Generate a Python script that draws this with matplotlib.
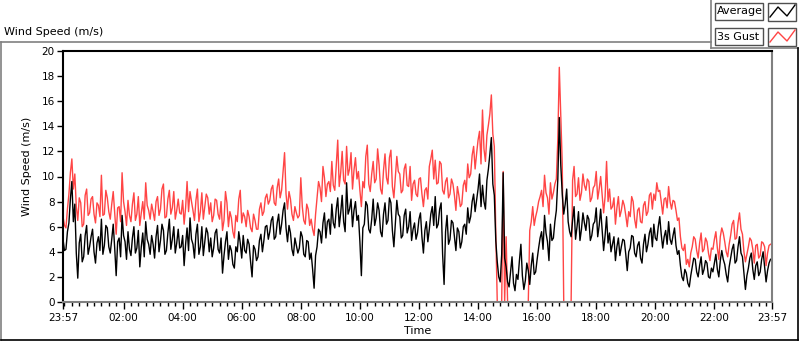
import matplotlib
matplotlib.use("Agg")
import matplotlib.pyplot as plt
from matplotlib.lines import Line2D
from matplotlib.patches import Rectangle
import numpy as np

# wind speed in m/s, one sample every 3 minutes starting at 23:57 (one row = one hour)
avg_speed = [
    5.0, 4.1, 4.2, 5.6, 6.3, 8.2, 9.6, 6.4, 7.8, 3.9, 1.9, 4.7, 5.4, 3.2, 3.6, 5.3, 6.1, 3.8, 4.4, 5.2,
    5.8, 4.0, 3.1, 4.7, 5.2, 4.1, 6.6, 3.8, 4.5, 6.1, 5.9, 4.4, 3.9, 5.0, 6.2, 4.3, 2.1, 4.8, 5.1, 3.6,
    6.9, 5.3, 4.8, 3.4, 5.6, 4.2, 3.7, 5.1, 6.0, 3.9, 4.3, 5.7, 2.8, 4.4, 5.5, 3.6, 6.4, 5.0, 4.6, 3.8,
    5.3, 4.6, 3.5, 5.2, 6.1, 4.0, 4.9, 6.2, 5.7, 3.8, 4.1, 5.5, 6.6, 4.2, 5.0, 6.0, 3.9, 4.7, 5.8, 4.3,
    4.4, 5.3, 2.9, 4.6, 5.9, 4.1, 6.7, 5.0, 4.6, 3.5, 5.4, 6.2, 3.8, 4.4, 6.0, 3.7, 4.8, 5.9, 5.5, 4.0,
    5.1, 3.6, 4.3, 5.5, 5.8, 4.2, 3.9, 5.1, 2.3, 3.7, 4.8, 5.6, 3.4, 4.5, 4.1, 3.0, 2.7, 4.4, 4.0, 5.6,
    4.7, 3.5, 5.3, 4.1, 3.9, 5.0, 4.6, 3.2, 2.0, 4.5, 4.2, 3.3, 3.6, 4.9, 5.4, 4.0, 4.9, 6.0, 6.1, 5.0,
    5.6, 6.5, 6.8, 5.0, 5.2, 6.3, 7.0, 5.4, 6.2, 7.3, 7.9, 5.9, 4.8, 6.1, 5.5, 4.2, 3.7, 5.1, 4.5, 3.9,
    4.3, 5.6, 5.2, 3.8, 3.6, 4.9, 4.8, 3.4, 3.9, 2.6, 1.1, 3.7, 4.4, 5.8, 5.6, 4.7, 6.3, 7.1, 5.1, 6.4,
    6.6, 5.4, 7.8, 6.3, 5.9, 7.4, 8.3, 6.0, 7.1, 8.5, 6.4, 5.6, 9.5, 7.0, 7.4, 8.2, 6.0, 7.3, 8.0, 6.5,
    6.9, 4.8, 2.1, 5.9, 6.2, 8.0, 7.7, 5.8, 5.5, 6.6, 8.2, 6.1, 6.7, 7.9, 7.3, 5.6, 5.2, 7.0, 7.9, 6.2,
    6.5, 8.3, 7.9, 5.7, 4.4, 6.2, 8.1, 7.0, 6.8, 5.1, 5.3, 6.9, 7.4, 5.5, 6.0, 7.2, 4.9, 5.8, 6.3, 5.0,
    5.5, 6.6, 7.1, 5.2, 3.9, 5.7, 6.4, 4.8, 5.8, 7.0, 7.6, 6.1, 8.4, 5.9, 6.2, 7.4, 7.9, 3.8, 1.4, 5.6,
    6.9, 4.6, 5.0, 6.5, 6.3, 5.2, 4.1, 5.9, 5.6, 4.3, 4.8, 6.0, 6.2, 5.4, 7.5, 6.3, 6.8, 8.0, 8.6, 7.2,
    8.1, 9.0, 10.2, 7.6, 9.3, 8.0, 7.4, 9.7, 10.6, 11.8, 13.1, 9.4, 8.5, 4.9, 3.2, 2.0, 1.6, 3.8, 10.3, 3.5,
    2.8, 1.6, 1.2, 2.4, 3.6, 1.5, 0.9, 2.2, 1.8, 3.3, 4.6, 2.1, 1.0, 1.7, 3.1, 2.5, 1.4, 2.9, 3.9, 2.2,
    2.4, 3.4, 4.3, 5.1, 5.6, 4.2, 6.9, 5.5, 4.8, 3.3, 6.2, 4.9, 5.1, 6.4, 7.3, 9.8, 14.7, 10.9, 8.6, 7.0,
    7.8, 9.0, 6.4, 5.6, 5.2, 6.5, 7.6, 5.0, 6.0, 7.2, 4.9, 5.8, 7.1, 6.3, 5.7, 6.9, 6.6, 4.9, 5.3, 6.2,
    6.4, 7.5, 5.2, 6.1, 7.4, 5.7, 4.1, 5.3, 6.8, 4.7, 5.5, 4.0, 4.6, 5.2, 3.3, 4.4, 5.1, 3.7, 4.4, 5.0,
    4.9, 3.8, 2.5, 4.0, 4.3, 5.3, 5.2, 3.9, 3.6, 4.5, 4.8, 3.5, 3.1, 4.6, 5.4, 4.0, 4.6, 5.5, 5.9, 4.4,
    6.2, 5.1, 4.9, 6.0, 6.8, 5.4, 4.3, 5.2, 5.7, 4.6, 6.4, 5.0, 4.6, 5.3, 5.9, 4.5, 3.8, 4.1, 2.9, 2.0,
    1.7, 2.6, 2.3, 1.5, 1.2, 2.1, 2.8, 3.5, 3.4, 2.4, 2.0, 2.9, 3.6, 2.2, 2.6, 3.3, 3.1, 2.0, 1.9, 2.7,
    2.4, 3.1, 3.8, 2.6, 2.0, 3.3, 4.1, 3.4, 3.0, 2.2, 1.6, 2.8, 3.5, 4.2, 4.6, 3.1, 3.3, 4.4, 5.2, 3.9,
    3.6, 2.3, 1.0, 2.1, 2.7, 3.5, 3.9, 2.6, 1.8, 2.9, 3.2, 2.1, 2.4, 3.4, 4.0, 2.8, 1.6, 2.5, 3.1, 3.4,
]
gust_speed = [
    6.8, 6.1, 5.9, 7.4, 8.6, 10.3, 11.4, 9.0, 10.2, 7.6, 6.5, 8.3, 7.9, 6.0, 6.2, 8.5, 9.0, 6.9, 7.1, 8.2,
    8.4, 7.0, 6.3, 7.9, 7.7, 6.8, 10.1, 6.9, 7.0, 8.9, 8.3, 7.2, 6.6, 7.8, 8.8, 7.1, 5.4, 7.5, 7.6, 6.4,
    10.3, 8.0, 7.2, 6.1, 8.1, 6.9, 6.4, 7.8, 8.7, 6.5, 7.0, 8.4, 6.1, 7.1, 8.0, 6.6, 9.5, 7.7, 7.3, 6.6,
    7.8, 7.2, 6.5, 8.0, 8.4, 6.9, 7.4, 9.0, 9.4, 6.7, 6.8, 8.2, 8.9, 7.0, 7.5, 8.8, 6.6, 7.3, 8.2, 7.1,
    7.0, 8.1, 6.2, 7.5, 9.6, 7.2, 8.8, 8.0, 7.3, 6.5, 8.1, 9.0, 6.4, 7.2, 8.7, 6.6, 7.6, 8.6, 8.3, 7.0,
    7.9, 6.4, 6.9, 8.2, 8.1, 7.0, 6.6, 8.0, 5.7, 6.5, 8.8, 7.9, 6.0, 7.2, 6.7, 5.6, 5.1, 6.9, 6.4, 8.2,
    8.9, 6.3, 7.1, 6.8, 6.0, 7.3, 6.8, 5.9, 5.6, 7.0, 6.5, 5.8, 5.8, 7.4, 7.9, 6.9, 7.2, 8.3, 8.6, 7.8,
    8.1, 9.0, 9.3, 7.9, 7.7, 9.1, 9.8, 8.3, 8.9, 10.4, 11.9, 8.6, 7.4, 8.8, 8.2, 7.0, 6.5, 7.6, 7.1, 6.7,
    6.9, 9.9, 7.6, 6.5, 6.2, 7.8, 7.4, 6.1, 6.6, 5.8, 5.3, 7.0, 8.3, 9.6, 9.1, 8.0, 10.8, 9.9, 8.4, 9.4,
    9.6, 8.8, 11.2, 9.3, 8.9, 10.9, 12.9, 9.2, 10.3, 12.0, 9.7, 9.4, 12.4, 10.1, 10.6, 11.9, 9.0, 10.5, 11.5, 9.8,
    10.4, 8.9, 7.6, 9.6, 9.1, 11.6, 12.5, 9.4, 8.8, 10.2, 11.2, 9.5, 9.8, 12.2, 10.9, 9.0, 8.6, 10.5, 11.8, 9.9,
    9.4, 11.5, 12.1, 9.2, 8.3, 9.9, 11.6, 10.4, 10.2, 8.7, 8.9, 10.6, 11.0, 9.3, 9.2, 10.8, 8.1, 9.4, 9.7, 8.6,
    8.4, 9.8, 9.9, 8.6, 7.6, 8.9, 9.1, 8.2, 10.8, 11.4, 12.1, 9.8, 11.3, 9.4, 9.5, 11.2, 11.0, 8.9, 8.6, 9.6,
    9.9, 8.3, 8.6, 9.8, 9.4, 8.5, 7.3, 9.2, 8.5, 7.6, 7.8, 9.3, 9.7, 8.8, 11.0, 9.9, 10.2, 11.7, 12.4, 10.6,
    11.8, 12.9, 13.6, 11.0, 15.3, 12.2, 11.2, 13.3, 14.1, 15.0, 16.5, 13.4, 12.4, 5.5, 0.0, 0.0, 0.0, 0.0, 10.4, 0.0,
    5.2, 0.0, 0.0, 0.0, 0.0, 0.0, 0.0, 0.0, 0.0, 0.0, 0.0, 0.0, 0.0, 0.0, 0.0, 0.0, 5.7, 6.4, 7.6, 6.1,
    6.8, 7.3, 8.0, 8.4, 8.9, 7.6, 10.1, 8.7, 8.3, 7.0, 9.5, 8.2, 8.7, 9.4, 9.8, 13.0, 18.7, 14.9, 11.0, 0.0,
    0.0, 0.0, 0.0, 0.0, 0.0, 9.7, 10.8, 8.4, 8.6, 9.9, 8.1, 8.7, 10.2, 9.3, 8.9, 9.8, 9.6, 8.0, 8.3, 9.1,
    9.3, 10.4, 8.2, 9.0, 10.0, 8.6, 7.1, 8.4, 11.2, 8.0, 9.0, 7.4, 7.6, 8.3, 6.2, 7.5, 8.4, 6.8, 7.3, 8.1,
    7.7, 6.9, 6.0, 7.2, 6.8, 8.4, 8.0, 6.6, 5.9, 7.3, 7.5, 6.4, 6.3, 7.7, 8.0, 6.9, 7.2, 8.5, 8.7, 7.4,
    8.6, 8.1, 9.5, 8.8, 8.9, 8.0, 7.0, 8.2, 8.3, 7.5, 9.2, 8.0, 7.4, 8.1, 8.0, 7.3, 6.5, 6.7, 5.2, 4.3,
    4.1, 4.6, 3.0, 3.4, 2.8, 3.9, 4.4, 5.2, 5.0, 4.1, 3.5, 4.7, 5.5, 4.0, 4.2, 5.1, 4.8, 3.9, 3.3, 4.3,
    4.2, 5.0, 5.6, 4.3, 3.4, 5.2, 5.9, 5.5, 4.8, 4.0, 3.6, 4.6, 5.3, 6.2, 6.5, 5.0, 5.1, 6.3, 7.1, 5.8,
    5.4, 4.0, 3.2, 3.8, 4.4, 5.1, 4.9, 4.2, 3.1, 4.5, 4.6, 3.5, 3.7, 4.8, 4.7, 4.4, 2.9, 3.9, 4.5, 4.6,
]
step_min = 3
start_label = "23:57"
time_labels = ["23:57", "02:00", "04:00", "06:00", "08:00", "10:00", "12:00",
               "14:00", "16:00", "18:00", "20:00", "22:00", "23:57"]
y_ticks = [0, 2, 4, 6, 8, 10, 12, 14, 16, 18, 20]


def to_min(lbl):
    h, m = map(int, lbl.split(":"))
    return h * 60 + m


t0 = to_min(start_label)
tick_pos = [(to_min(l) - t0) % 1440 for l in time_labels]
tick_pos[-1] = 1440
t = np.arange(len(avg_speed)) * step_min

W, H = 800, 342
fig = plt.figure(figsize=(W / 100, H / 100), dpi=100)
ax = fig.add_axes([63 / W, 1 - 302 / H, (772 - 63) / W, (302 - 51) / H])

ax.plot(t, gust_speed, color="#ff4545", lw=1.0)
ax.plot(t, avg_speed, color="black", lw=1.0)

ax.set_xlim(0, 1440)
ax.set_ylim(0, 20)
ax.set_yticks(y_ticks)
ax.set_xticks(tick_pos)
ax.set_xticklabels(time_labels)
ax.set_xticks(np.arange(3, 1440, 15), minor=True)
ax.tick_params(axis="both", labelsize=7.5, colors="black", width=1)
ax.tick_params(axis="x", which="major", length=5, pad=3)
ax.tick_params(axis="x", which="minor", length=3, width=1)
ax.tick_params(axis="y", length=4, pad=2)

for s in ["left", "top"]:
    ax.spines[s].set_color("black")
    ax.spines[s].set_linewidth(1.5)
for s in ["right", "bottom"]:
    ax.spines[s].set_color("#808080")
    ax.spines[s].set_linewidth(1.5)

ax.set_xlabel("Time", fontsize=8, labelpad=2)
ax.set_ylabel("Wind Speed (m/s)", fontsize=8)
ax.yaxis.set_label_coords(-0.044, 0.54)

fig.text(4 / W, 1 - 32 / H, "Wind Speed (m/s)", fontsize=8, va="center", ha="left")


def px(x, y):
    return x / W, 1 - y / H


def fline(p1, p2, color, lw=1.2):
    (x1, y1), (x2, y2) = px(*p1), px(*p2)
    fig.add_artist(Line2D([x1, x2], [y1, y2], color=color, lw=lw, transform=fig.transFigure))


# panel frame
fline((1, 42), (711, 42), "#808080")
fline((1, 42), (1, 340), "#808080")
fline((711, 0), (711, 48), "#808080")
fline((711, 48), (798, 48), "#808080")
fline((1, 340), (798, 340), "black")
fline((798, 48), (798, 340), "black")

# legend
legend_items = [("Average", "black"), ("3s Gust", "#ff4545")]
for i, (name, c) in enumerate(legend_items):
    top = 3 + i * 25
    x0, y0 = px(715, top + 17)
    fig.add_artist(Rectangle((x0, y0), 48 / W, 17 / H, transform=fig.transFigure,
                             facecolor="white", edgecolor="#505050", lw=1))
    fig.text(717 / W, 1 - (top + 8.5) / H, name, fontsize=8, va="center", ha="left")
    x1, y1 = px(768, top + 18)
    fig.add_artist(Rectangle((x1, y1), 28 / W, 18 / H, transform=fig.transFigure,
                             facecolor="white", edgecolor="#505050", lw=1))
    zx = [770, 778, 787, 795]
    zy = [top + 14, top + 4, top + 13, top + 2]
    fig.add_artist(Line2D([v / W for v in zx], [1 - v / H for v in zy], color=c, lw=1,
                          transform=fig.transFigure))

fig.savefig("out.png", dpi=100)
